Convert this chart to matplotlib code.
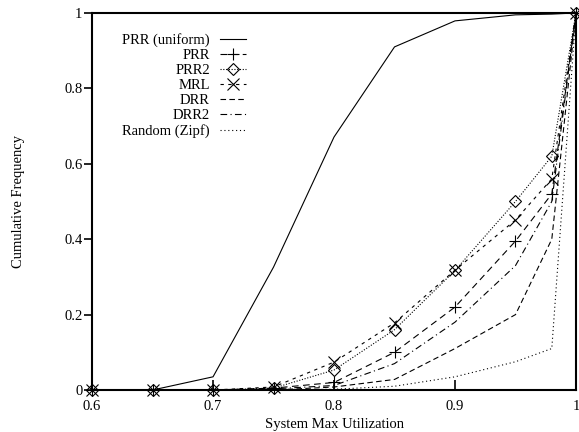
import matplotlib
matplotlib.use('Agg')
import matplotlib.pyplot as plt
from matplotlib.ticker import FormatStrFormatter

plt.rcParams['font.family'] = ['Liberation Serif', 'DejaVu Serif']
plt.rcParams['font.size'] = 10.5

# utilization levels sampled
util = [0.6, 0.65, 0.7, 0.75, 0.8, 0.85, 0.9, 0.95, 0.98, 1.0]

# cumulative frequency per scheme
prr_uniform = [0, 0, 0.035, 0.326, 0.671, 0.91, 0.979, 0.995, 0.997, 1.0]
prr = [0, 0, 0, 0.005, 0.02, 0.10, 0.22, 0.395, 0.52, 1.0]
prr2 = [0, 0, 0, 0.005, 0.053, 0.16, 0.317, 0.50, 0.62, 1.0]
mrl = [0, 0, 0, 0.008, 0.074, 0.178, 0.318, 0.451, 0.56, 1.0]
drr = [0, 0, 0, 0.0, 0.008, 0.028, 0.11, 0.20, 0.40, 1.0]
drr2 = [0, 0, 0, 0.003, 0.012, 0.07, 0.18, 0.33, 0.50, 1.0]
random_zipf = [0, 0, 0, 0, 0.002, 0.01, 0.035, 0.075, 0.11, 1.0]

labels = ['PRR (uniform)', 'PRR', 'PRR2', 'MRL', 'DRR', 'DRR2', 'Random (Zipf)']


def main():
    fig = plt.figure(figsize=(5.79, 4.32), dpi=100)
    ax = fig.add_axes([0.159, 0.0972, 0.8358, 0.8728])

    lw = 0.8
    common = dict(color='black', linewidth=lw, clip_on=False)
    ax.plot(util, prr_uniform, linestyle='-', label=labels[0], **common)
    ax.plot(util, prr, linestyle=(0, (6, 4)), marker='+', markersize=9,
            markeredgewidth=lw, label=labels[1], **common)
    ax.plot(util, prr2, linestyle=(0, (1, 1.5)), marker='D', markersize=6,
            markerfacecolor='none', markeredgewidth=lw, label=labels[2], **common)
    ax.plot(util, mrl, linestyle=(0, (3, 4)), marker='x', markersize=9,
            markeredgewidth=lw, label=labels[3], **common)
    ax.plot(util, drr, linestyle=(0, (5, 3)), label=labels[4], **common)
    ax.plot(util, drr2, linestyle=(0, (6, 3, 1, 3)), label=labels[5], **common)
    ax.plot(util, random_zipf, linestyle=(0, (1, 2.5)), label=labels[6], **common)

    ax.set_xlim(0.6, 1.0)
    ax.set_ylim(0, 1)
    ax.set_xticks([0.6, 0.7, 0.8, 0.9, 1.0])
    ax.set_yticks([0, 0.2, 0.4, 0.6, 0.8, 1.0])
    ax.xaxis.set_major_formatter(FormatStrFormatter('%g'))
    ax.yaxis.set_major_formatter(FormatStrFormatter('%g'))
    ax.tick_params(axis='x', direction='in', length=7, width=1.2, pad=7.5)
    ax.tick_params(axis='y', direction='out', length=6, width=1.2, pad=1)
    for s in ax.spines.values():
        s.set_linewidth(1.5)

    ax.set_xlabel('System Max Utilization', labelpad=3)
    ax.set_ylabel('Cumulative Frequency', labelpad=28)

    ax.legend(loc='upper left', bbox_to_anchor=(0.041, 0.974), frameon=False,
              markerfirst=False, handlelength=1.8, handletextpad=0.7,
              labelspacing=0.13, borderaxespad=0.3)

    plt.savefig('out.png', dpi=100)


if __name__ == '__main__':
    main()
